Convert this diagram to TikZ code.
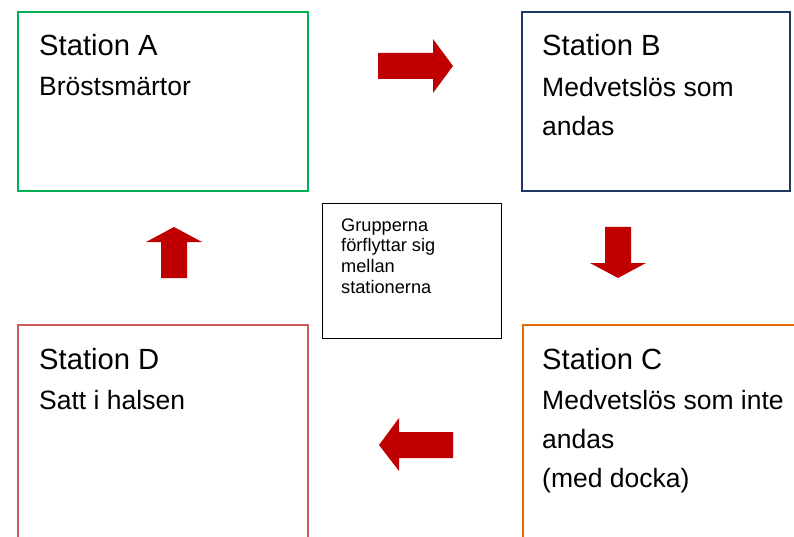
\documentclass[tikz,border=0pt]{standalone}
\usepackage{fontspec}
\setmainfont{Liberation Sans}
\definecolor{cA}{HTML}{00B050}
\definecolor{cB}{HTML}{203864}
\definecolor{cC}{HTML}{E36C0A}
\definecolor{cD}{HTML}{CD5C5C}
\definecolor{arrowred}{HTML}{C00000}
\begin{document}
\begin{tikzpicture}[x=1pt,y=-1pt,
  station/.style={line width=1.6pt, minimum width=#1, anchor=north west, inner sep=0pt},
  title/.style={anchor=base west, inner sep=0pt, font=\fontsize{29.2}{34}\selectfont},
  body/.style={anchor=base west, inner sep=0pt, font=\fontsize{26.5}{40}\selectfont},
  note/.style={anchor=base west, inner sep=0pt, font=\fontsize{18.2}{21}\selectfont},
  blockarrow/.style={fill=arrowred, draw=none}]
\clip (0,0) rectangle (794,537);
\fill[white] (0,0) rectangle (794,537);
% boxes
\node[station=290pt, draw=cA, minimum height=179pt] (A) at (17,11) {};
\node[station=268pt, draw=cB, minimum height=179pt] (B) at (521,11) {};
\node[station=300pt, draw=cC, minimum height=240pt] (C) at (522,324) {};
\node[station=290pt, draw=cD, minimum height=240pt] (D) at (17,324) {};
\node[station=179pt, draw=black, line width=1.4pt, minimum height=135pt] (M) at (321.5,203) {};
% texts
\node[title] (tA) at (39,56) {Station A};
\node[body] (bA) at (39,96) {Bröstsmärtor};
\node[title] (tB) at (542,56) {Station B};
\node[body] (bB1) at (542,96.5) {Medvetslös som};
\node[body] (bB2) at (542,136) {andas};
\node[title] (tC) at (542,369) {Station C};
\node[body] (bC1) at (542,409) {Medvetslös som inte};
\node[body] (bC2) at (542,448) {andas};
\node[body] (bC3) at (542,487) {(med docka)};
\node[title] (tD) at (39,369) {Station D};
\node[body] (bD) at (39,409) {Satt i halsen};
\node[note] (m1) at (341,231) {Grupperna};
\node[note] (m2) at (341,251.8) {förflyttar sig};
\node[note] (m3) at (341,272.6) {mellan};
\node[note] (m4) at (341,293.4) {stationerna};
% block arrows
\fill[blockarrow] (378,53) -- (433,53) -- (433,39) -- (453,66) -- (433,93) -- (433,79) -- (378,79) -- cycle;
\fill[blockarrow] (605,227) -- (631,227) -- (631,263) -- (646,263) -- (618,278) -- (590,263) -- (605,263) -- cycle;
\fill[blockarrow] (453,432) -- (399,432) -- (399,418) -- (379,445) -- (399,471) -- (399,458) -- (453,458) -- cycle;
\fill[blockarrow] (161,278) -- (161,242) -- (146,242) -- (174,227) -- (202,242) -- (187,242) -- (187,278) -- cycle;
\end{tikzpicture}
\end{document}
